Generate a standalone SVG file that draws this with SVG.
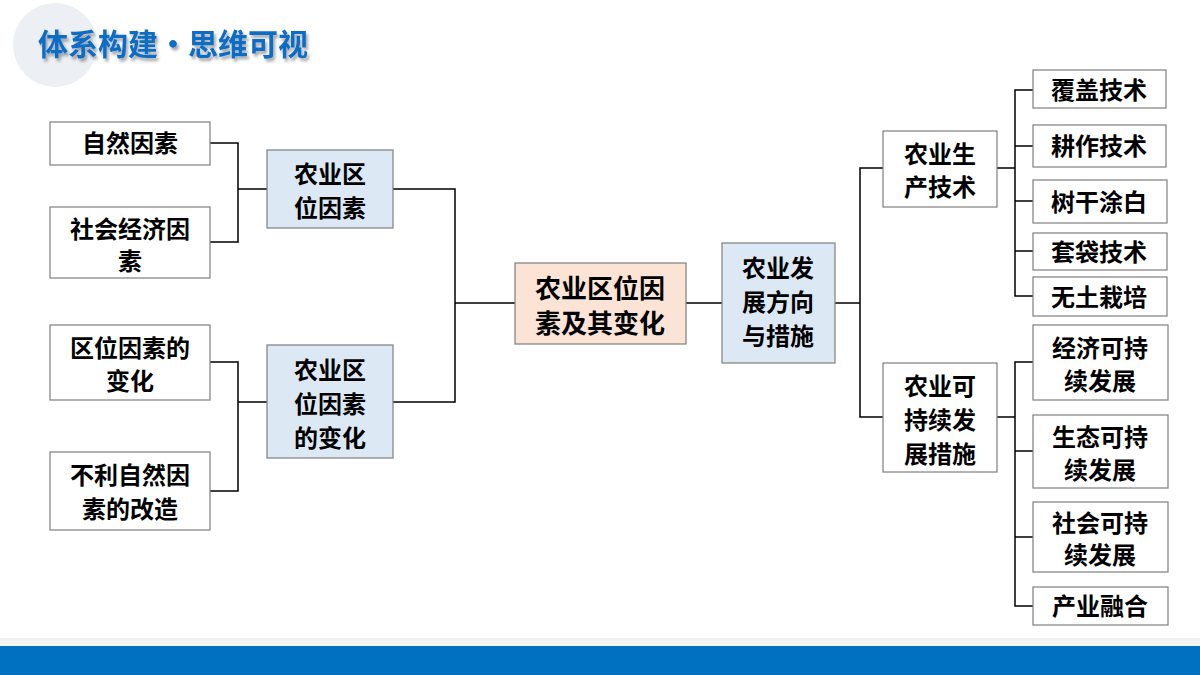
<svg xmlns="http://www.w3.org/2000/svg" width="1200" height="675" viewBox="0 0 1200 675">
<defs>
<style>
.b{fill:#fff;stroke:#7f7f7f;stroke-width:1.2}
.bl{fill:#dde8f5;stroke:#7f7f7f;stroke-width:1.2}
.pk{fill:#fbe4d5;stroke:#7f7f7f;stroke-width:1.2}
text{font-family:"Noto Sans CJK SC","Noto Sans",sans-serif;font-weight:bold;font-size:24px;fill:#000;text-anchor:middle}
.c path{fill:none;stroke:#000;stroke-width:1.5}
</style>
<filter id="sh" x="-10%" y="-10%" width="130%" height="140%"><feDropShadow dx="2" dy="3" stdDeviation="1.5" flood-color="#000" flood-opacity="0.35"/></filter>
</defs>
<rect width="1200" height="675" fill="#fff"/>
<circle cx="55" cy="45" r="42" fill="#eceff3"/>
<text x="38" y="55" style="font-size:30px;fill:#0e6cc4;text-anchor:start" filter="url(#sh)">体系构建•思维可视</text>
<rect x="0" y="638" width="1200" height="8" fill="#f2f2f2"/>
<rect x="0" y="646" width="1200" height="29" fill="#0070c0"/>
<g class="c">
<path d="M210 143H238V242H210M238 189H267"/>
<path d="M210 362H238V491H210M238 402H267"/>
<path d="M393 189H455V402H393M455 303H515"/>
<path d="M686 303H722M835 303H860"/>
<path d="M883 168H860V417H883"/>
<path d="M997 168H1015M1033 90H1015V296H1033M1015 146H1033M1015 201H1033M1015 251H1033"/>
<path d="M997 417H1015M1033 362H1015V606H1033M1015 451H1033M1015 537H1033"/>
</g>
<g id="n1"><rect class="b" x="50" y="122" width="160" height="43"/><text x="130" y="152">自然因素</text></g>
<g id="n2"><rect class="b" x="50" y="207" width="160" height="71"/><text x="130" y="238">社会经济因</text><text x="130" y="270">素</text></g>
<g id="n3"><rect class="b" x="50" y="325" width="160" height="75"/><text x="130" y="357">区位因素的</text><text x="130" y="390">变化</text></g>
<g id="n4"><rect class="b" x="50" y="452" width="160" height="78"/><text x="130" y="484">不利自然因</text><text x="130" y="518">素的改造</text></g>
<g id="n5"><rect class="bl" x="267" y="150" width="126" height="78"/><text x="330" y="183">农业区</text><text x="330" y="217">位因素</text></g>
<g id="n6"><rect class="bl" x="267" y="345" width="126" height="113"/><text x="330" y="379">农业区</text><text x="330" y="413">位因素</text><text x="330" y="447">的变化</text></g>
<g id="n7"><rect class="pk" x="515" y="263" width="171" height="81"/><text x="600" y="298" style="font-size:26px">农业区位因</text><text x="600" y="333" style="font-size:26px">素及其变化</text></g>
<g id="n8"><rect class="bl" x="722" y="243" width="113" height="120"/><text x="778" y="277">农业发</text><text x="778" y="311">展方向</text><text x="778" y="345">与措施</text></g>
<g id="n9"><rect class="b" x="883" y="131" width="114" height="76"/><text x="940" y="163">农业生</text><text x="940" y="196">产技术</text></g>
<g id="n10"><rect class="b" x="883" y="363" width="114" height="109"/><text x="940" y="395">农业可</text><text x="940" y="429">持续发</text><text x="940" y="463">展措施</text></g>
<g id="n11"><rect class="b" x="1033" y="70" width="133" height="38"/><text x="1099" y="99">覆盖技术</text></g>
<g id="n12"><rect class="b" x="1033" y="125" width="133" height="42"/><text x="1099" y="155">耕作技术</text></g>
<g id="n13"><rect class="b" x="1033" y="180" width="134" height="43"/><text x="1099" y="211">树干涂白</text></g>
<g id="n14"><rect class="b" x="1033" y="233" width="134" height="37"/><text x="1099" y="261">套袋技术</text></g>
<g id="n15"><rect class="b" x="1033" y="277" width="134" height="39"/><text x="1099" y="306">无土栽培</text></g>
<g id="n16"><rect class="b" x="1033" y="325" width="135" height="75"/><text x="1100" y="357">经济可持</text><text x="1100" y="390">续发展</text></g>
<g id="n17"><rect class="b" x="1033" y="415" width="135" height="73"/><text x="1100" y="446">生态可持</text><text x="1100" y="479">续发展</text></g>
<g id="n18"><rect class="b" x="1033" y="502" width="135" height="70"/><text x="1100" y="532">社会可持</text><text x="1100" y="564">续发展</text></g>
<g id="n19"><rect class="b" x="1033" y="587" width="135" height="38"/><text x="1100" y="615">产业融合</text></g>
</svg>
